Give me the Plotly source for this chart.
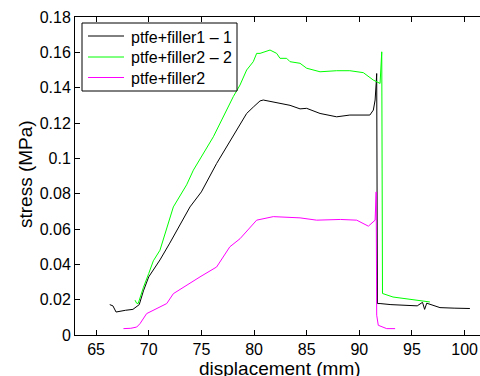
import plotly.graph_objects as go

# ptfe+filler1 - 1 (black)
x_black = [66.3, 66.6, 66.9, 67.3, 67.8, 68.5, 69.1, 69.5, 70.0, 71.07, 72.0, 73.92, 75.0, 76.45,
           78.67, 79.3, 79.93, 80.57, 80.88, 81.83, 82.47, 83.42, 84.37, 85.0, 86.27, 87.85,
           89.1, 91.0, 91.33, 91.5, 91.6, 91.65, 91.72, 91.97, 93.0, 94.5, 95.5, 96.0, 96.2,
           96.4, 97.66, 99.0, 100.5]
y_black = [0.0172, 0.0165, 0.013, 0.0135, 0.014, 0.0145, 0.0172, 0.025, 0.0329, 0.0425, 0.052,
           0.0725, 0.081, 0.0971, 0.1193, 0.1254, 0.129, 0.1325, 0.133, 0.132, 0.131, 0.130,
           0.128, 0.1283, 0.1254, 0.1235, 0.1245, 0.1245, 0.1273, 0.133, 0.1424, 0.148, 0.0178,
           0.0178, 0.0172, 0.0168, 0.0165, 0.0185, 0.0145, 0.018, 0.0155, 0.0152, 0.015]

# ptfe+filler2 - 2 (green)
x_green = [68.7, 68.85, 69.0, 69.5, 70.0, 70.44, 71.07, 72.34, 73.6, 74.24, 76.14, 78.03, 78.67,
           79.3, 79.93, 80.25, 80.57, 81.36, 81.52, 82.15, 82.47, 83.1, 83.42, 84.37, 85.0,
           86.27, 87.85, 89.1, 90.38, 91.33, 91.97, 92.13, 92.2, 93.2, 94.5, 95.76, 96.7]
y_green = [0.0197, 0.018, 0.0178, 0.027, 0.0348, 0.042, 0.048, 0.0725, 0.085, 0.0933, 0.1122,
           0.1349, 0.1415, 0.150, 0.1547, 0.1594, 0.1594, 0.1613, 0.1613, 0.1594, 0.1566,
           0.1566, 0.1547, 0.1538, 0.151, 0.149, 0.1496, 0.1496, 0.1485, 0.1443, 0.1424,
           0.1603, 0.0235, 0.0215, 0.0206, 0.0197, 0.0187]

# ptfe+filler2 (magenta)
x_mag = [67.6, 68.3, 68.86, 69.17, 69.8, 70.76, 71.71, 72.34, 73.6, 74.87, 76.45, 77.7, 78.67,
         80.25, 81.83, 84.37, 85.95, 88.2, 89.75, 90.86, 91.5, 91.6, 91.65, 91.8, 92.6, 93.4]
y_mag = [0.0036, 0.0038, 0.0045, 0.0064, 0.0121, 0.015, 0.0178, 0.0234, 0.0282, 0.0329, 0.0385,
         0.0499, 0.0545, 0.065, 0.067, 0.0663, 0.065, 0.0654, 0.065, 0.0616, 0.065, 0.081,
         0.0112, 0.0055, 0.0036, 0.0036]

series_names = ["ptfe+filler1 \u2013 1", "ptfe+filler2 \u2013 2", "ptfe+filler2"]
series_colors = ["#000000", "#00ff00", "#ff00ff"]

x_ticks = [65, 70, 75, 80, 85, 90, 95, 100]
y_ticks = [0, 0.02, 0.04, 0.06, 0.08, 0.1, 0.12, 0.14, 0.16, 0.18]
y_ticklabels = ["0", "0.02", "0.04", "0.06", "0.08", "0.1", "0.12", "0.14", "0.16", "0.18"]

# plot-area geometry in pixels
L, R, T, B = 75, 480, 17, 335
def px(x):
    return (x - L) / (R - L)
def py(y):
    return (B - y) / (B - T)

fig = go.Figure()
for xs, ys, name, col in zip([x_black, x_green, x_mag], [y_black, y_green, y_mag],
                             series_names, series_colors):
    fig.add_trace(go.Scatter(x=xs, y=ys, mode="lines", name=name, showlegend=False,
                             line=dict(color=col, width=1)))

font_family = "Liberation Sans, Arial, sans-serif"

shapes = [dict(type="rect", xref="paper", yref="paper",
               x0=px(82), x1=px(237), y0=py(91), y1=py(23),
               line=dict(color="black", width=1), fillcolor="white", layer="above")]
annotations = []
row_y = [36, 57, 77.5]
for name, col, ry in zip(series_names, series_colors, row_y):
    shapes.append(dict(type="line", xref="paper", yref="paper",
                       x0=px(88), x1=px(124), y0=py(ry), y1=py(ry),
                       line=dict(color=col, width=1), layer="above"))
    annotations.append(dict(text=name, xref="paper", yref="paper", x=px(129), y=py(ry + 1),
                            xanchor="left", yanchor="middle", showarrow=False,
                            font=dict(size=16, color="black")))

annotations.append(dict(text="displacement (mm)", xref="paper", yref="paper",
                        x=px(280), y=py(381), xanchor="center", yanchor="bottom",
                        showarrow=False, font=dict(size=19, color="black")))
annotations.append(dict(text="stress (MPa)", xref="paper", yref="paper",
                        x=px(25), y=py(174), xanchor="center", yanchor="middle",
                        textangle=-90, showarrow=False, font=dict(size=19, color="black")))

fig.update_layout(
    width=480, height=376,
    margin=dict(l=L, r=480 - R, t=T, b=376 - B),
    paper_bgcolor="white", plot_bgcolor="white",
    font=dict(family=font_family, size=16, color="black"),
    showlegend=False,
    shapes=shapes,
    annotations=annotations,
    xaxis=dict(range=[63, 101.46], tickvals=x_ticks, ticks="inside", ticklen=5,
               tickcolor="black", showline=True, linecolor="black", linewidth=1,
               mirror="ticks", showgrid=False, zeroline=False, automargin=False),
    yaxis=dict(range=[0, 0.18], tickvals=y_ticks, ticktext=y_ticklabels, ticks="inside",
               ticklen=5, tickcolor="black", showline=True, linecolor="black", linewidth=1,
               mirror=False, showgrid=False, zeroline=False, automargin=False),
)

fig.write_html("out.html", config={"displayModeBar": False},
               post_script="document.body.style.margin='0';document.body.style.overflow='hidden';")
